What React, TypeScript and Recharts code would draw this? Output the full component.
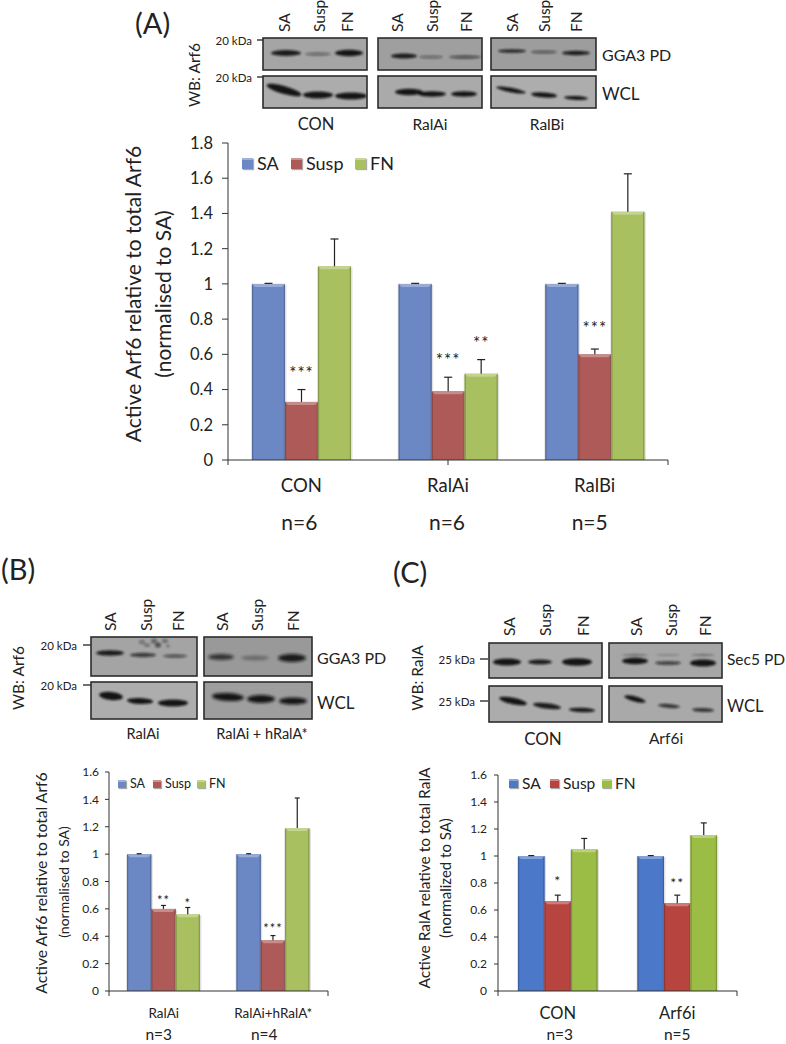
import { Bar, BarChart, ErrorBar, Legend, XAxis, YAxis } from 'recharts';

const FONT = 'Lato, "Open Sans", sans-serif';

// panel A
const catsA = ['CON', 'RalAi', 'RalBi'];
const nA = ['n=6', 'n=6', 'n=5'];
const saA = [1, 1, 1];
const suspA = [0.33, 0.39, 0.6];
const fnA = [1.1, 0.49, 1.41];
const saErrA = [0.003, 0.003, 0.003];
const suspErrA = [0.07, 0.08, 0.03];
const fnErrA = [0.155, 0.08, 0.215];
const suspStarsA = ['***', '***', '***'];
const fnStarsA = ['', '**', ''];
const ticksA = [0, 0.2, 0.4, 0.6, 0.8, 1, 1.2, 1.4, 1.6, 1.8];

// panel B
const catsB = ['RalAi', 'RalAi+hRalA*'];
const nB = ['n=3', 'n=4'];
const saB = [1, 1];
const suspB = [0.6, 0.37];
const fnB = [0.56, 1.19];
const saErrB = [0.003, 0.003];
const suspErrB = [0.025, 0.035];
const fnErrB = [0.05, 0.22];
const suspStarsB = ['**', '***'];
const fnStarsB = ['*', ''];

// panel C
const catsC = ['CON', 'Arf6i'];
const nC = ['n=3', 'n=5'];
const saC = [1, 1];
const suspC = [0.665, 0.65];
const fnC = [1.05, 1.155];
const saErrC = [0.003, 0.003];
const suspErrC = [0.045, 0.06];
const fnErrC = [0.08, 0.09];
const suspStarsC = ['*', '**'];
const fnStarsC = ['', ''];
const ticksBC = [0, 0.2, 0.4, 0.6, 0.8, 1, 1.2, 1.4, 1.6];

const mutedColors = { sa: '#6b87c4', susp: '#ad5a58', fn: '#a9c060' };
const vividColors = { sa: '#4b78c9', susp: '#b8443f', fn: '#9cbd45' };

function lighten(hex: string, amt: number) {
  const n = parseInt(hex.slice(1), 16);
  const c = [(n >> 16) & 255, (n >> 8) & 255, n & 255].map((v) =>
    Math.max(0, Math.min(255, Math.round(amt > 0 ? v + (255 - v) * amt : v * (1 + amt)))),
  );
  return `rgb(${c.join(',')})`;
}

function barShape(vals: number[], errs: number[], stars: string[], starGap: number, starSize: number, lift: number[] = []) {
  return (p: any) => {
    const { x, y, width: w, height: h, fill, index } = p;
    const errPx = (errs[index] * h) / vals[index];
    const bevel = 3;
    return (
      <g>
        <rect x={x - 1} y={y + 1} width={w + 2.5} height={h - 1} fill="#999" opacity={0.3} />
        <rect x={x} y={y} width={w} height={h} fill={fill} />
        <rect x={x} y={y} width={1.2} height={h} fill={lighten(fill, -0.2)} />
        <rect x={x + w - 1.2} y={y} width={1.2} height={h} fill={lighten(fill, -0.2)} />
        <polygon
          points={`${x},${y} ${x + w},${y} ${x + w - bevel},${y + bevel} ${x + bevel},${y + bevel}`}
          fill={lighten(fill, 0.3)}
        />
        {stars[index] ? (
          <text
            x={x + w / 2}
            y={y - errPx - starGap - (lift[index] || 0)}
            textAnchor="middle"
            fontSize={starSize}
            fontFamily={FONT}
            letterSpacing={1}
            fill="#222"
          >
            {stars[index]}
          </text>
        ) : null}
      </g>
    );
  };
}

function ChartLegend({ payload, iconSize, fontSize, gap }: any) {
  return (
    <div style={{ display: 'flex', fontFamily: FONT, fontSize, color: '#222', lineHeight: 1 }}>
      {(payload || []).map((e: any, i: number) => (
        <div key={e.value} style={{ display: 'flex', alignItems: 'center', width: gap[i] }}>
          <span
            style={{
              width: iconSize,
              height: iconSize,
              marginRight: 4,
              background: e.color,
              borderTop: `2px solid ${lighten(e.color, 0.35)}`,
              boxSizing: 'border-box',
              boxShadow: '1px 1px 1px #aaa',
            }}
          />
          {e.value}
        </div>
      ))}
    </div>
  );
}

function CatTick({ x, y, payload, index, labels, catY, nY, catSize, nSize, nShift }: any) {
  return (
    <g fontFamily={FONT} fill="#222" textAnchor="middle">
      <text x={x} y={y + catY} fontSize={catSize}>
        {payload.value}
      </text>
      <text x={x + nShift[index]} y={y + nY} fontSize={nSize}>
        {labels[index]}
      </text>
    </g>
  );
}

function Panel({
  left, top, plotW, plotH, bottom, cats, ns, sa, susp, fn, saErr, suspErr, fnErr, suspStars, fnStars,
  ticks, colors, barSize, capW, tickSize, tickMargin, legend, catY, nY, catSize, nSize, nShift, starGap, starSize, suspLift,
}: any) {
  const yW = 60;
  const data = cats.map((c: string, i: number) => ({
    cat: c,
    SA: sa[i],
    Susp: susp[i],
    FN: fn[i],
    saE: [0, saErr[i]],
    suspE: [0, suspErr[i]],
    fnE: [0, fnErr[i]],
  }));
  const edges = cats.map((_: string, i: number) => i).concat(cats.length);
  return (
    <div style={{ position: 'absolute', left: left - yW, top: top - 10 }}>
      <BarChart
        width={plotW + yW + 10}
        height={plotH + 10 + bottom}
        data={data}
        barSize={barSize}
        barGap={0}
        margin={{ top: 10, right: 10, bottom: 0, left: 0 }}
      >
        {/* id 0 stacks nearest the plot: carries the axis line and the ticks between groups */}
        <XAxis
          xAxisId={0}
          type="number"
          domain={[0, cats.length]}
          ticks={edges}
          tickFormatter={() => ''}
          height={1}
          stroke="#333"
          tickSize={5}
        />
        <XAxis
          xAxisId={1}
          dataKey="cat"
          height={bottom - 1}
          axisLine={false}
          tickLine={false}
          interval={0}
          tick={(p: any) => (
            <CatTick {...p} labels={ns} catY={catY} nY={nY} catSize={catSize} nSize={nSize} nShift={nShift} />
          )}
        />
        <YAxis
          width={yW}
          domain={[0, ticks[ticks.length - 1]]}
          ticks={ticks}
          interval={0}
          stroke="#333"
          tickSize={tickSize}
          tickMargin={tickMargin}
          tick={{ fill: '#222', fontSize: legend.tickFont, fontFamily: FONT }}
        />
        <Legend
          layout="horizontal"
          align="center"
          verticalAlign="middle"
          itemSorter={null}
          wrapperStyle={{ left: legend.x - left + yW, top: legend.y - top + 10, width: 'auto' }}
          content={(p: any) => (
            <ChartLegend payload={p.payload} iconSize={legend.icon} fontSize={legend.font} gap={legend.gap} />
          )}
        />
        <Bar xAxisId={1} dataKey="SA" fill={colors.sa} isAnimationActive={false} shape={barShape(sa, saErr, [], 0, 0)}>
          <ErrorBar dataKey="saE" width={capW} stroke="#222" strokeWidth={1.2} isAnimationActive={false} />
        </Bar>
        <Bar
          xAxisId={1}
          dataKey="Susp"
          fill={colors.susp}
          isAnimationActive={false}
          shape={barShape(susp, suspErr, suspStars, starGap, starSize, suspLift)}
        >
          <ErrorBar dataKey="suspE" width={capW} stroke="#222" strokeWidth={1.2} isAnimationActive={false} />
        </Bar>
        <Bar
          xAxisId={1}
          dataKey="FN"
          fill={colors.fn}
          isAnimationActive={false}
          shape={barShape(fn, fnErr, fnStars, starGap, starSize)}
        >
          <ErrorBar dataKey="fnE" width={capW} stroke="#222" strokeWidth={1.2} isAnimationActive={false} />
        </Bar>
      </BarChart>
    </div>
  );
}

// western blot artwork, not chart data: [cx, cy, half width, half height, darkness, tilt]
type Band = number[];

function Blot({ x, y, w, h, fill, bands, blur = 1 }: { x: number; y: number; w: number; h: number; fill: string; bands: Band[]; blur?: number }) {
  const id = `c${x}-${y}`;
  return (
    <g>
      <clipPath id={id}>
        <rect x={x} y={y} width={w} height={h} />
      </clipPath>
      <rect x={x} y={y} width={w} height={h} fill={fill} />
      <g clipPath={`url(#${id})`}>
        <g filter={blur === 1 ? 'url(#blot1)' : 'url(#blot2)'}>
          {bands.map((b, i) => (
            <ellipse
              key={i}
              cx={b[0]}
              cy={b[1]}
              rx={b[2]}
              ry={b[3]}
              fill="#111"
              opacity={b[4]}
              transform={`rotate(${b[5] || 0} ${b[0]} ${b[1]})`}
            />
          ))}
        </g>
      </g>
      <rect x={x} y={y} width={w} height={h} fill="none" stroke="#2c2c2c" strokeWidth={1.6} />
    </g>
  );
}

function T({ x, y, size, children, anchor = 'start', rot }: any) {
  return (
    <text
      x={x}
      y={y}
      fontSize={size}
      fontFamily={FONT}
      fill="#222"
      textAnchor={anchor}
      dominantBaseline="central"
      transform={rot ? `rotate(${rot} ${x} ${y})` : undefined}
    >
      {children}
    </text>
  );
}

function Lanes({ xs, bottom, size }: { xs: number[]; bottom: number; size: number }) {
  const names = ['SA', 'Susp', 'FN'];
  return (
    <>
      {names.map((n, i) => (
        <T key={n} x={xs[i]} y={bottom} size={size} rot={-90}>
          {n}
        </T>
      ))}
    </>
  );
}

function Marker({ x, x1, x2, y, label }: any) {
  return (
    <>
      <T x={x} y={y} size={11.5} anchor="end">
        {label}
      </T>
      <line x1={x1} x2={x2} y1={y} y2={y} stroke="#333" strokeWidth={1.4} />
    </>
  );
}

function Blots() {
  return (
    <svg width={786} height={1044} style={{ position: 'absolute', left: 0, top: 0 }}>
      <defs>
        <filter id="blot1" x="-20%" y="-50%" width="140%" height="200%">
          <feGaussianBlur stdDeviation="1" />
        </filter>
        <filter id="blot2" x="-20%" y="-50%" width="140%" height="200%">
          <feGaussianBlur stdDeviation="1.6" />
        </filter>
      </defs>

      {/* A */}
      <T x={135} y={22} size={29}>(A)</T>
      <Lanes xs={[284, 319, 347]} bottom={32} size={15.5} />
      <Lanes xs={[397, 432, 466]} bottom={32} size={15.5} />
      <Lanes xs={[512, 544, 576]} bottom={32} size={15.5} />
      <Marker x={252} x1={257} x2={263} y={40} label="20 kDa" />
      <Marker x={252} x1={257} x2={263} y={77} label="20 kDa" />
      <T x={194} y={75} size={15.5} anchor="middle" rot={-90}>WB: Arf6</T>
      <Blot x={263} y={38} w={104} h={32} fill="#a5a5a5" bands={[[286, 53, 15, 3, 0.9], [318, 54, 13, 1.8, 0.4], [349, 53, 14, 3.2, 0.95]]} />
      <Blot x={378} y={38} w={104} h={32} fill="#9f9f9f" bands={[[404, 56, 13, 2.6, 0.9], [431, 57, 12, 1.6, 0.4], [465, 57, 16, 1.8, 0.55]]} />
      <Blot x={491} y={38} w={105} h={32} fill="#9d9d9d" bands={[[512, 51, 14, 1.8, 0.85], [544, 52, 13, 1.6, 0.5], [576, 53, 14, 2.2, 0.9]]} />
      <Blot x={263} y={76} w={104} h={32} fill="#acacac" bands={[[284, 90, 18, 4, 0.95, 16], [318, 95, 15, 3.4, 0.95], [351, 96, 16, 3.4, 0.95]]} />
      <Blot x={378} y={76} w={104} h={32} fill="#aaaaaa" bands={[[409, 92, 14, 3.2, 0.95], [432, 94, 14, 2.8, 0.95], [464, 94, 13, 2.8, 0.95]]} />
      <Blot x={491} y={76} w={105} h={32} fill="#adadad" bands={[[511, 90, 15, 2.2, 0.95, 11], [544, 95, 13, 2.6, 0.95, 4], [576, 98, 12, 2, 0.95, 2]]} />
      <T x={602} y={54} size={16}>GGA3 PD</T>
      <T x={602} y={93} size={17}>WCL</T>
      <T x={316} y={124} size={16.5} anchor="middle">CON</T>
      <T x={430} y={124} size={15.5} anchor="middle">RalAi</T>
      <T x={547} y={124} size={15.5} anchor="middle">RalBi</T>
      <T x={132} y={294} size={21} anchor="middle" rot={-90}>Active Arf6 relative to total Arf6</T>
      <T x={162} y={294} size={21} anchor="middle" rot={-90}>(normalised to SA)</T>

      {/* B */}
      <T x={1} y={568} size={29}>(B)</T>
      <Lanes xs={[110, 146, 178]} bottom={631} size={15.5} />
      <Lanes xs={[222, 257, 293]} bottom={631} size={15.5} />
      <Marker x={77} x1={83} x2={91} y={645} label="20 kDa" />
      <Marker x={77} x1={83} x2={91} y={685} label="20 kDa" />
      <T x={18} y={678} size={15.5} anchor="middle" rot={-90}>WB: Arf6</T>
      <Blot x={91} y={637} w={106} h={39} fill="#a4a4a4" bands={[[110, 653, 14, 2.8, 0.9], [143, 655, 13, 2.2, 0.7], [175, 656, 12, 1.8, 0.55], [142, 642, 3, 2, 0.35], [147, 645, 3, 1.5, 0.4], [154, 641, 3, 2.5, 0.45], [158, 645, 3, 2.5, 0.6], [165, 641, 3, 2, 0.4], [168, 646, 2, 1.5, 0.3]]} />
      <Blot x={204} y={637} w={108} h={39} fill="#999999" blur={2} bands={[[221, 657, 13, 3, 0.75], [255, 658, 14, 2.4, 0.3], [292, 658, 14, 4, 0.9]]} />
      <Blot x={91} y={682} w={106} h={37} fill="#adadad" bands={[[111, 696, 12, 4, 0.95, 6], [140, 701, 13, 3, 0.95, 3], [173, 703, 15, 3.4, 0.95]]} />
      <Blot x={204} y={682} w={108} h={37} fill="#9e9e9e" blur={2} bands={[[228, 697, 16, 4, 0.95, 3], [261, 699, 14, 4, 0.95], [293, 701, 14, 3.6, 0.95]]} />
      <T x={317} y={657} size={16}>GGA3 PD</T>
      <T x={317} y={702} size={17}>WCL</T>
      <T x={143} y={733} size={14.5} anchor="middle">RalAi</T>
      <T x={262} y={733} size={14.5} anchor="middle">RalAi + hRalA*</T>
      <T x={41} y={883} size={15.7} anchor="middle" rot={-90}>Active Arf6 relative to total Arf6</T>
      <T x={63} y={882} size={14} anchor="middle" rot={-90}>(normalised to SA)</T>

      {/* C */}
      <T x={393} y={571} size={29}>(C)</T>
      <Lanes xs={[509, 545, 583]} bottom={636} size={15.5} />
      <Lanes xs={[636, 671, 705]} bottom={636} size={15.5} />
      <Marker x={475} x1={480} x2={488} y={659} label="25 kDa" />
      <Marker x={475} x1={480} x2={488} y={701} label="25 kDa" />
      <T x={417} y={678} size={15.5} anchor="middle" rot={-90}>WB: RalA</T>
      <Blot x={489} y={643} w={113} h={35} fill="#a9a9a9" bands={[[507, 662, 14, 3.6, 0.95], [540, 662, 12, 2.4, 0.9], [577, 662, 15, 3.8, 0.95]]} />
      <Blot x={609} y={643} w={113} h={35} fill="#a6a6a6" bands={[[635, 655, 13, 1.2, 0.3], [635, 661, 13, 3.2, 0.95], [668, 655, 12, 1, 0.2], [668, 663, 13, 2, 0.65], [703, 655, 12, 1.2, 0.3], [703, 663, 13, 3.6, 0.95]]} />
      <Blot x={489} y={686} w={113} h={36} fill="#acacac" bands={[[513, 701, 14, 3.2, 0.95, 12], [547, 706, 14, 2.8, 0.9, 7], [582, 710, 13, 2.2, 0.9, 2]]} />
      <Blot x={609} y={686} w={113} h={36} fill="#a9a9a9" bands={[[635, 699, 11, 2.6, 0.95, 15], [669, 706, 11, 2, 0.75, 4], [703, 710, 11, 2, 0.75, 2]]} />
      <T x={727} y={659} size={15.5}>Sec5 PD</T>
      <T x={727} y={706} size={16.5}>WCL</T>
      <T x={543} y={738} size={17} anchor="middle">CON</T>
      <T x={666} y={738} size={15.5} anchor="middle">Arf6i</T>
      <T x={424} y={878} size={15.5} anchor="middle" rot={-90}>Active RalA relative to total RalA</T>
      <T x={445} y={878} size={15} anchor="middle" rot={-90}>(normalized to SA)</T>
    </svg>
  );
}

export default function App() {
  return (
    <div style={{ position: 'absolute', left: 0, top: 0, width: 786, height: 1044, background: '#fff', overflow: 'hidden' }}>
      <style>{`.recharts-errorBar line:nth-of-type(3){display:none}`}</style>
      <Blots />
      <Panel
        left={228} top={143} plotW={440} plotH={317} bottom={80}
        cats={catsA} ns={nA} sa={saA} susp={suspA} fn={fnA}
        saErr={saErrA} suspErr={suspErrA} fnErr={fnErrA} suspStars={suspStarsA} fnStars={fnStarsA}
        ticks={ticksA} colors={mutedColors} barSize={33} capW={4} tickSize={6} tickMargin={9}
        legend={{ x: 242, y: 154, icon: 11, font: 18, gap: [49, 64, 50], tickFont: 16.5 }}
        catY={23} nY={61} catSize={18.5} nSize={21} nShift={[-2, -1, -5]} starGap={11} starSize={17} suspLift={[0, 0, 4]}
      />
      <Panel
        left={109} top={772} plotW={219} plotH={219} bottom={53}
        cats={catsB} ns={nB} sa={saB} susp={suspB} fn={fnB}
        saErr={saErrB} suspErr={suspErrB} fnErr={fnErrB} suspStars={suspStarsB} fnStars={fnStarsB}
        ticks={ticksBC} colors={mutedColors} barSize={24.3} capW={2.5} tickSize={4} tickMargin={6}
        legend={{ x: 118, y: 778, icon: 8, font: 12.5, gap: [35, 44, 36], tickFont: 12 }}
        catY={18} nY={40} catSize={13.5} nSize={15.5} nShift={[-5, -9]} starGap={0} starSize={13} suspLift={[0, 3]}
      />
      <Panel
        left={498} top={775} plotW={239} plotH={216} bottom={53}
        cats={catsC} ns={nC} sa={saC} susp={suspC} fn={fnC}
        saErr={saErrC} suspErr={suspErrC} fnErr={fnErrC} suspStars={suspStarsC} fnStars={fnStarsC}
        ticks={ticksBC} colors={vividColors} barSize={26.5} capW={3} tickSize={4} tickMargin={7}
        legend={{ x: 509, y: 776, icon: 9, font: 15.5, gap: [41, 52, 46], tickFont: 12 }}
        catY={19} nY={40} catSize={16.5} nSize={15.5} nShift={[2, 0]} starGap={7} starSize={14} suspLift={[2, 0]}
      />
    </div>
  );
}
